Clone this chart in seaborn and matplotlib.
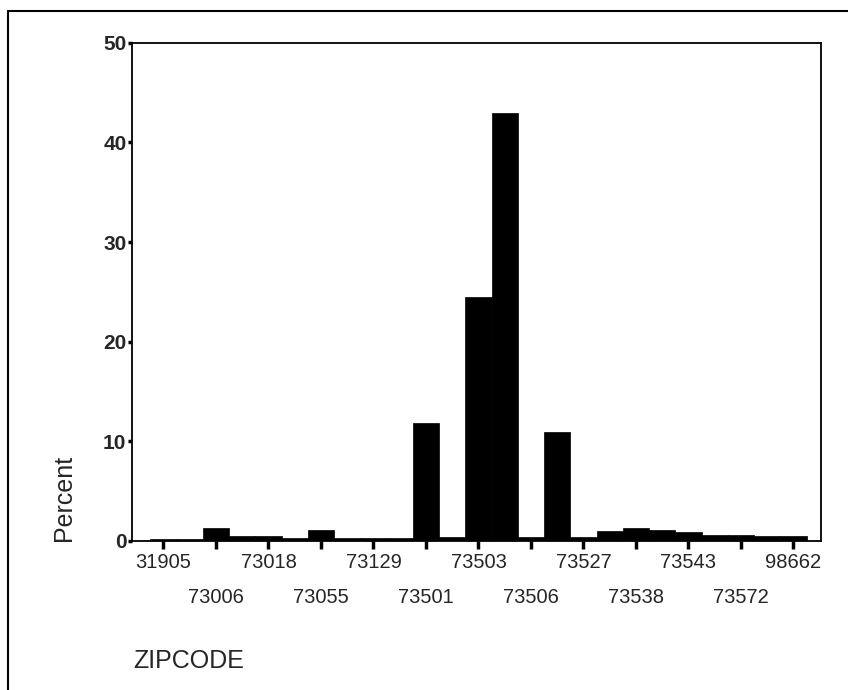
import matplotlib
matplotlib.use("Agg")
import matplotlib.pyplot as plt
from matplotlib.lines import Line2D
import seaborn as sns
import pandas as pd

sns.set_theme(style="white")
plt.rcParams['font.family'] = ['Liberation Sans', 'DejaVu Sans']

# Labeled zip codes (every other bar carries a label)
zip_labels = ["31905", "73006", "73018", "73055", "73129", "73501", "73503",
              "73506", "73527", "73538", "73543", "73572", "98662"]
# Percent for each of the 25 bars, in axis order
percent = [0.25, 0.25, 1.35, 0.5, 0.5, 0.3, 1.15, 0.3, 0.3, 0.3,
           11.8, 0.4, 24.5, 42.9, 0.4, 10.9, 0.4, 1.0, 1.35, 1.1,
           0.9, 0.65, 0.65, 0.5, 0.5]
bar_ids = [f"b{i:02d}" for i in range(len(percent))]
y_ticks = [0, 10, 20, 30, 40, 50]

df = pd.DataFrame({"bar": bar_ids, "percent": percent})

W, H = 848, 690
fig = plt.figure(figsize=(W / 100, H / 100), dpi=100)
ax = fig.add_axes([132 / W, 1 - 541 / H, (821 - 132) / W, (541 - 42.7) / H])

sns.barplot(data=df, x="bar", y="percent", order=bar_ids, color="black",
            saturation=1, width=1.0, ax=ax, edgecolor="black", linewidth=0.5)

ax.set_xlim(-1.2, 25.05)
ax.set_ylim(0, 50)
ax.set_yticks(y_ticks)
ax.set_yticklabels([str(v) for v in y_ticks], fontsize=15, fontweight="bold")
ax.set_xticks(range(0, len(percent), 2))
ax.set_xticklabels(zip_labels, fontsize=14.5)
ax.set_xlabel("")
ax.set_ylabel("")

ax.tick_params(axis="x", direction="out", length=6, width=2.5, color="black", bottom=True)
ax.tick_params(axis="y", direction="out", length=3, width=2.5, color="black", left=True, pad=1)
for i, t in enumerate(ax.xaxis.get_major_ticks()):
    t.set_pad(3 if i % 2 == 0 else 28)

for s in ax.spines.values():
    s.set_visible(True)
    s.set_color("black")
    s.set_linewidth(1.3)

fig.text(64 / W, 1 - 498 / H, "Percent", rotation=90, ha="center", va="center", fontsize=18)
fig.text(133 / W, 1 - 661 / H, "ZIPCODE", ha="left", va="center", fontsize=18)

# outer frame (left and top edges)
fig.add_artist(Line2D([8 / W, 8 / W], [0, 1 - 10.7 / H], transform=fig.transFigure,
                      color="black", lw=1.5))
fig.add_artist(Line2D([8 / W, 1], [1 - 10.7 / H, 1 - 10.7 / H], transform=fig.transFigure,
                      color="black", lw=1.5))

fig.savefig("out.png", dpi=100, facecolor="white")
